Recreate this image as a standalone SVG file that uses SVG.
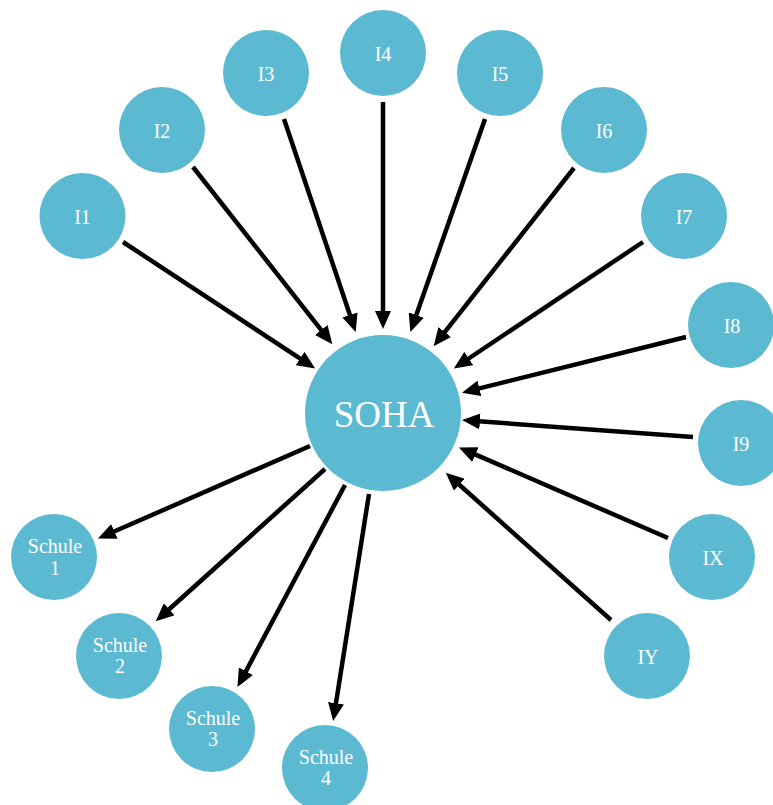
<svg xmlns="http://www.w3.org/2000/svg" width="773" height="805" viewBox="0 0 773 805">
<defs>
<style>
.n{fill:#5bb9d2}
.t{fill:#fff;font-family:"Liberation Serif","Times New Roman",serif;font-size:20px;text-anchor:middle}
.big{font-size:37px}
.c line{stroke:#000;stroke-width:4.5;marker-end:url(#ah)}
</style>
<marker id="ah" viewBox="0 0 18 16" refX="1" refY="8" markerWidth="18" markerHeight="16" markerUnits="userSpaceOnUse" orient="auto">
<path d="M0,0 L18,8 L0,16 z" fill="#000"/>
</marker>
</defs>
<rect width="773" height="805" fill="#fff"/>
<g id="connectors" class="c">
<line x1="123" y1="242" x2="300.96" y2="359.10"/>
<line x1="193" y1="167" x2="321.87" y2="330.85"/>
<line x1="284" y1="119" x2="350.26" y2="315.94"/>
<line x1="383" y1="102" x2="383" y2="312"/>
<line x1="485" y1="119" x2="415.95" y2="316.02"/>
<line x1="574" y1="168" x2="444.14" y2="332.86"/>
<line x1="643" y1="242" x2="467.97" y2="359.0"/>
<line x1="686" y1="337" x2="478.47" y2="388.65"/>
<line x1="693" y1="437" x2="478.95" y2="421.32"/>
<line x1="668" y1="538" x2="474.51" y2="454.16"/>
<line x1="611" y1="620" x2="458.44" y2="483.98"/>
<line x1="310" y1="446" x2="113.5" y2="531.8"/>
<line x1="325" y1="469" x2="168.38" y2="609.96"/>
<line x1="345" y1="485" x2="245.46" y2="672.11"/>
<line x1="369" y1="494" x2="335.81" y2="704.22"/>
</g>
<g id="soha"><circle class="n" cx="383" cy="413" r="78"/><text class="t big" x="384" y="427">SOHA</text></g>
<g id="i1"><circle class="n" cx="82.5" cy="216" r="43"/><text class="t" x="82.5" y="224">I1</text></g>
<g id="i2"><circle class="n" cx="162" cy="130" r="43"/><text class="t" x="162" y="138">I2</text></g>
<g id="i3"><circle class="n" cx="266" cy="73" r="43"/><text class="t" x="266" y="81">I3</text></g>
<g id="i4"><circle class="n" cx="383" cy="53" r="43"/><text class="t" x="383" y="61">I4</text></g>
<g id="i5"><circle class="n" cx="500" cy="73" r="43"/><text class="t" x="500" y="81">I5</text></g>
<g id="i6"><circle class="n" cx="604" cy="130" r="43"/><text class="t" x="604" y="138">I6</text></g>
<g id="i7"><circle class="n" cx="684" cy="216" r="43"/><text class="t" x="684" y="224">I7</text></g>
<g id="i8"><circle class="n" cx="731" cy="325" r="43"/><text class="t" x="732" y="333">I8</text></g>
<g id="i9"><circle class="n" cx="741" cy="443" r="43"/><text class="t" x="741" y="451">I9</text></g>
<g id="ix"><circle class="n" cx="712" cy="557" r="43"/><text class="t" x="713" y="565">IX</text></g>
<g id="iy"><circle class="n" cx="647" cy="656" r="43"/><text class="t" x="648" y="664">IY</text></g>
<g id="schule1"><circle class="n" cx="54" cy="557" r="43"/><text class="t" x="55" y="553">Schule</text><text class="t" x="55" y="575">1</text></g>
<g id="schule2"><circle class="n" cx="119" cy="656" r="43"/><text class="t" x="120" y="652">Schule</text><text class="t" x="120" y="673">2</text></g>
<g id="schule3"><circle class="n" cx="212" cy="729" r="43"/><text class="t" x="213" y="725">Schule</text><text class="t" x="213" y="746">3</text></g>
<g id="schule4"><circle class="n" cx="325" cy="768" r="43"/><text class="t" x="326" y="764">Schule</text><text class="t" x="326" y="785">4</text></g>
</svg>
